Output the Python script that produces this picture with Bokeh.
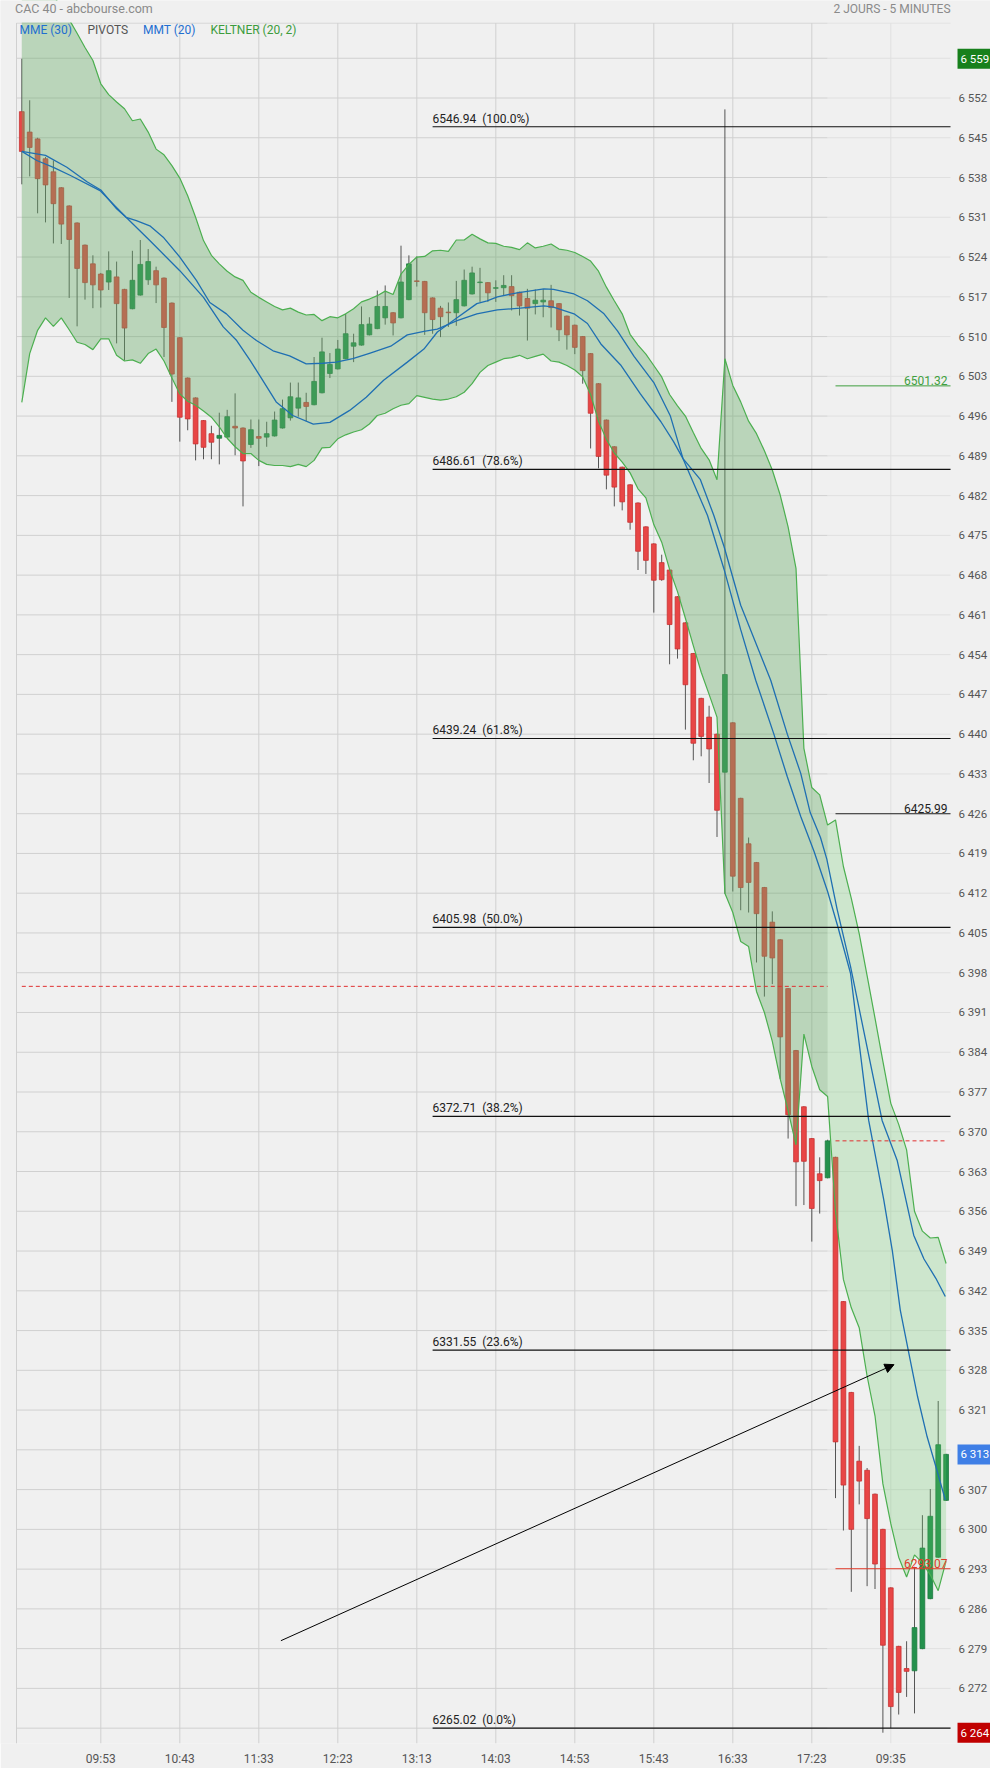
from bokeh.plotting import figure
from bokeh.models import Range1d, FixedTicker, Label, Arrow, NormalHead, ColumnDataSource
from bokeh.core.properties import value
from bokeh.embed import file_html
from bokeh.resources import INLINE

# ---------------- data ----------------
opens = [6549.6, 6546.0, 6544.8, 6541.3, 6539.0, 6536.2, 6533.0, 6530.0, 6526.1, 6522.8,
         6521.0, 6519.6, 6520.5, 6518.3, 6514.9, 6517.3, 6520.0, 6521.6, 6520.3, 6515.9,
         6509.8, 6502.7, 6499.2, 6495.2, 6492.9, 6492.1, 6492.3, 6494.2, 6493.9, 6491.0,
         6492.4, 6492.3, 6492.5, 6493.9, 6495.7, 6497.4, 6498.4, 6498.0, 6500.1, 6503.5,
         6504.3, 6506.1, 6508.3, 6508.5, 6510.3, 6511.4, 6513.3, 6514.2, 6513.3, 6516.5,
         6519.8, 6519.7, 6516.8, 6515.0, 6514.3, 6514.2, 6515.4, 6517.5, 6519.5, 6519.5,
         6518.5, 6518.6, 6518.8, 6517.8, 6516.7, 6515.8, 6516.1, 6516.3, 6515.8, 6513.6,
         6512.0, 6510.0, 6507.0, 6501.7, 6495.3, 6490.6, 6487.0, 6483.9, 6480.7, 6476.5,
         6473.5, 6470.2, 6468.9, 6464.2, 6459.6, 6454.2, 6446.3, 6443.0, 6440.0, 6433.3,
         6442.0, 6428.7, 6420.7, 6417.4, 6413.0, 6406.9, 6403.8, 6395.2, 6384.3, 6374.4,
         6368.8, 6362.6, 6361.9, 6365.5, 6340.1, 6324.1, 6312.0, 6310.4, 6306.2, 6300.0,
         6289.7, 6279.4, 6275.5, 6275.1, 6279.0, 6287.8, 6295.1, 6305.1]
highs = [6558.91, 6551.6, 6545.0, 6541.6, 6541.0, 6536.3, 6533.1, 6530.1, 6526.2, 6524.3,
         6521.2, 6525.0, 6523.2, 6518.4, 6525.1, 6527.0, 6525.4, 6522.3, 6520.4, 6516.0,
         6509.9, 6502.8, 6499.3, 6495.3, 6494.3, 6496.6, 6497.1, 6500.0, 6494.0, 6495.4,
         6495.4, 6495.0, 6496.8, 6498.9, 6501.9, 6501.9, 6500.1, 6506.4, 6509.8, 6507.1,
         6509.4, 6514.0, 6510.5, 6515.3, 6513.4, 6518.1, 6519.0, 6514.3, 6526.0, 6524.3,
         6524.1, 6519.8, 6516.9, 6515.4, 6516.0, 6519.8, 6521.8, 6522.3, 6522.1, 6519.6,
         6519.9, 6520.8, 6520.8, 6517.9, 6518.4, 6518.3, 6518.4, 6519.1, 6515.9, 6513.7,
         6512.1, 6510.1, 6507.1, 6501.8, 6495.4, 6490.7, 6487.1, 6484.0, 6480.8, 6476.6,
         6473.6, 6471.6, 6469.0, 6464.3, 6459.7, 6454.3, 6446.4, 6445.0, 6440.1, 6550.0,
         6442.1, 6428.8, 6421.8, 6417.5, 6413.1, 6408.8, 6403.9, 6395.3, 6384.4, 6374.5,
         6368.9, 6365.5, 6368.6, 6365.6, 6340.2, 6324.2, 6314.7, 6310.8, 6306.3, 6300.1,
         6289.8, 6279.5, 6280.3, 6293.4, 6302.5, 6307.1, 6322.6, 6313.3]
lows = [6536.8, 6538.2, 6531.7, 6530.1, 6526.4, 6526.3, 6516.8, 6511.8, 6516.5, 6515.0,
        6515.1, 6518.2, 6508.8, 6505.8, 6514.8, 6517.2, 6519.1, 6515.9, 6506.4, 6498.5,
        6491.5, 6493.5, 6488.2, 6488.4, 6488.4, 6487.5, 6492.2, 6489.1, 6480.1, 6490.4,
        6487.2, 6490.6, 6492.4, 6493.8, 6495.2, 6495.9, 6495.1, 6497.9, 6500.0, 6502.7,
        6504.2, 6506.0, 6505.5, 6508.4, 6510.2, 6511.3, 6512.1, 6510.2, 6513.2, 6516.4,
        6518.8, 6510.3, 6510.5, 6509.9, 6511.7, 6511.9, 6515.3, 6517.4, 6516.1, 6516.1,
        6516.1, 6517.2, 6514.6, 6513.7, 6509.3, 6513.9, 6513.4, 6511.6, 6509.2, 6507.7,
        6506.9, 6501.7, 6490.3, 6486.8, 6483.1, 6480.1, 6479.4, 6476.0, 6468.9, 6468.2,
        6461.4, 6467.0, 6452.3, 6453.3, 6440.8, 6435.4, 6436.1, 6431.4, 6421.9, 6411.9,
        6412.3, 6409.0, 6408.6, 6399.8, 6393.8, 6396.0, 6379.3, 6368.8, 6356.9, 6357.1,
        6350.66, 6355.6, 6361.8, 6305.5, 6299.8, 6289.0, 6304.4, 6290.0, 6289.5, 6264.2,
        6265.0, 6267.4, 6270.5, 6267.6, 6278.9, 6287.7, 6295.0, 6305.0]
closes = [6542.6, 6543.3, 6537.8, 6536.7, 6533.4, 6529.8, 6527.1, 6522.0, 6519.5, 6519.1,
          6518.2, 6521.6, 6515.8, 6511.5, 6519.9, 6522.7, 6523.2, 6519.1, 6511.6, 6503.4,
          6495.8, 6495.5, 6491.1, 6490.5, 6491.4, 6492.6, 6495.9, 6493.9, 6488.1, 6493.6,
          6492.1, 6492.9, 6495.3, 6497.3, 6499.4, 6499.2, 6497.7, 6502.1, 6507.3, 6505.1,
          6507.8, 6510.5, 6508.9, 6512.1, 6512.2, 6515.3, 6515.3, 6512.4, 6519.6, 6522.8,
          6519.7, 6514.2, 6513.0, 6513.5, 6514.2, 6516.5, 6519.9, 6521.2, 6519.6, 6517.7,
          6518.6, 6519.0, 6517.2, 6515.4, 6515.0, 6516.4, 6516.4, 6515.1, 6511.2, 6510.3,
          6508.1, 6504.0, 6496.5, 6488.9, 6485.6, 6483.5, 6480.9, 6477.3, 6472.2, 6470.6,
          6467.1, 6467.2, 6459.3, 6455.0, 6448.7, 6438.4, 6439.6, 6437.4, 6426.6, 6450.5,
          6415.0, 6413.0, 6413.9, 6408.4, 6400.9, 6400.6, 6386.7, 6373.0, 6364.7, 6364.8,
          6356.5, 6361.4, 6368.4, 6315.4, 6307.8, 6300.0, 6308.5, 6301.9, 6293.9, 6279.6,
          6268.8, 6271.3, 6275.0, 6282.7, 6296.7, 6302.3, 6314.9, 6313.2]

keltner_upper = [6580.0, 6578.0, 6575.0, 6572.0, 6570.0, 6568.0, 6565.8, 6563.4, 6560.9, 6558.6,
                 6554.5, 6552.6, 6551.3, 6550.1, 6548.0, 6548.3, 6546.0, 6543.0, 6542.0, 6540.1,
                 6537.9, 6534.8, 6531.0, 6526.9, 6524.3, 6522.8, 6521.5, 6520.5, 6519.9, 6517.8,
                 6516.9, 6516.1, 6515.3, 6514.7, 6515.0, 6514.3, 6513.8, 6513.9, 6512.8, 6513.5,
                 6513.3, 6514.0, 6514.9, 6516.1, 6516.6, 6517.2, 6518.0, 6517.4, 6521.0, 6522.7,
                 6524.0, 6524.1, 6525.1, 6525.2, 6525.0, 6527.0, 6527.0, 6528.0, 6527.2, 6526.5,
                 6526.4, 6525.9, 6525.7, 6525.3, 6526.5, 6525.6, 6525.9, 6526.3, 6525.4, 6525.2,
                 6524.8, 6524.1, 6523.3, 6521.5, 6518.7, 6516.3, 6514.0, 6510.4, 6508.5, 6506.9,
                 6504.9, 6502.9, 6499.8, 6497.8, 6496.0, 6493.1, 6490.3, 6488.3, 6484.8, 6506.1,
                 6501.4, 6498.5, 6495.1, 6492.9, 6489.9, 6486.5, 6482.1, 6476.5, 6469.2, 6437.5,
                 6430.6, 6429.3, 6424.0, 6424.9, 6416.7, 6411.1, 6404.9, 6397.5, 6390.0, 6382.4,
                 6375.0, 6371.3, 6366.8, 6356.0, 6352.5, 6351.3, 6351.4, 6346.8]
keltner_lower = [6498.4, 6507.0, 6511.1, 6513.3, 6511.8, 6513.3, 6511.2, 6509.0, 6508.6, 6507.7,
                 6509.6, 6509.6, 6506.7, 6505.7, 6505.9, 6505.3, 6507.0, 6507.8, 6505.7, 6502.7,
                 6499.9, 6498.6, 6497.9, 6496.9, 6495.8, 6494.1, 6492.1, 6490.6, 6489.4, 6489.4,
                 6488.2, 6487.5, 6487.3, 6487.3, 6487.1, 6487.5, 6487.1, 6488.2, 6490.4, 6490.5,
                 6492.0, 6492.7, 6493.2, 6493.6, 6494.6, 6496.1, 6496.5, 6497.3, 6497.9, 6498.2,
                 6499.6, 6499.3, 6499.0, 6498.8, 6499.0, 6499.4, 6500.2, 6501.7, 6503.7, 6504.9,
                 6505.5, 6506.1, 6506.3, 6506.7, 6506.1, 6506.5, 6506.9, 6505.7, 6505.5, 6504.9,
                 6504.1, 6502.9, 6499.8, 6495.1, 6491.9, 6489.5, 6487.9, 6486.0, 6483.2, 6481.6,
                 6476.9, 6473.8, 6469.0, 6465.1, 6460.4, 6455.6, 6450.9, 6447.0, 6443.0, 6412.0,
                 6408.6, 6403.5, 6402.6, 6394.7, 6391.0, 6385.9, 6379.3, 6373.7, 6367.7, 6387.2,
                 6381.5, 6377.4, 6376.2, 6356.0, 6344.0, 6339.0, 6335.5, 6327.0, 6320.0, 6308.0,
                 6301.0, 6295.1, 6291.6, 6295.5, 6294.1, 6292.0, 6289.2, 6294.4]

mme_x = [0, 3.0, 5.7, 8.3, 10, 12, 13.2, 14.5, 16.2, 17.9, 20, 22.1, 23.8, 25.9, 28, 29.7,
         31.8, 33.9, 36, 38.1, 39.8, 41.9, 44.1, 46.7, 48.8, 50.9, 52.6, 55.1, 57.6, 60.2,
         63.1, 66.1, 67.3, 69.9, 71.6, 73.3, 75.8, 78.3, 80.9, 82.5, 83.7, 85.9, 87.6, 88.9,
         91.0, 94.8, 96.9, 98.6, 99.8, 101.1, 101.9, 103.2, 104.9, 108.9, 110.8, 111.9, 112.9,
         114.2, 115.7, 116.9]
mme_y = [6542.6, 6541.9, 6539.8, 6537.2, 6535.8, 6532.5, 6531.0, 6530.4, 6529.5, 6527.5,
         6524.0, 6519.9, 6516.0, 6514.0, 6511.1, 6509.3, 6507.5, 6506.6, 6505.2, 6505.3,
         6505.5, 6506.1, 6507.1, 6508.3, 6510.3, 6510.9, 6511.3, 6512.8, 6514.0, 6514.7,
         6515.0, 6515.4, 6515.2, 6514.0, 6512.3, 6508.7, 6505.0, 6499.9, 6495.0, 6491.5,
         6488.5, 6484.8, 6478.5, 6473.0, 6462.7, 6449.5, 6440.0, 6433.1, 6426.2, 6421.8,
         6418.0, 6409.2, 6399.1, 6372.0, 6365.0, 6358.1, 6351.8, 6347.6, 6344.2, 6341.0]
mmt_x = [0, 1.9, 4.0, 6.1, 9.9, 13.2, 16.2, 20, 23, 25.5, 27.2, 28.9, 30.5, 32.2, 34.3, 36.9,
         39, 41.5, 43.6, 45.8, 48.8, 50.9, 52.6, 55.1, 57.6, 58.9, 60.2, 62.7, 66.1, 67.3, 69.9,
         71.6, 73.7, 75.4, 77.5, 80.0, 82.1, 83.7, 84.6, 86.8, 88.9, 91.0, 92.9, 95.2, 96.9,
         98.6, 100.3, 102.0, 103.3, 104.9, 107.2, 109.1, 110.2, 111.2, 112.3, 113.4, 114.6,
         115.9, 116.9]
mmt_y = [6542.6, 6541.0, 6539.8, 6538.4, 6535.7, 6531.0, 6526.9, 6521.6, 6516.9, 6511.7,
         6509.3, 6505.8, 6502.3, 6498.5, 6496.1, 6494.6, 6494.9, 6497.0, 6499.3, 6502.3,
         6505.5, 6507.8, 6510.8, 6513.3, 6515.8, 6516.3, 6517.0, 6517.7, 6518.4, 6518.3,
         6517.5, 6516.3, 6514.0, 6511.0, 6506.5, 6501.9, 6496.0, 6488.5, 6485.6, 6478.5,
         6469.0, 6458.4, 6449.5, 6440.0, 6432.5, 6425.5, 6419.3, 6412.3, 6406.1, 6397.9,
         6372.0, 6358.1, 6349.0, 6338.6, 6330.9, 6323.3, 6316.3, 6310.1, 6305.2]

x_tick_pos = [10, 20, 30, 40, 50, 60, 70, 80, 90, 100, 110]
x_tick_labels = ["09:53", "10:43", "11:33", "12:23", "13:13", "14:03", "14:53",
                 "15:43", "16:33", "17:23", "09:35"]
y_ticks = list(range(6265, 6560, 7))
y_tick_labels = [f"{t // 1000} {t % 1000:03d}" for t in y_ticks]

fib_levels = [6546.94, 6486.61, 6439.24, 6405.98, 6372.71, 6331.55, 6265.02]
fib_pcts = ["100.0%", "78.6%", "61.8%", "50.0%", "38.2%", "23.6%", "0.0%"]
fib_start = 52

day1_last = 102
prev_close_levels = [6395.6, 6368.4]
day2_levels = [6501.32, 6425.99, 6293.07]
day2_colors = ["#3f9f3f", "#222222", "#e03a2a"]
trend_start = (32.8, 6280.4)
trend_end = (110.4, 6329.0)

# ---------------- geometry (pixel layout of the picture) ----------------
PX_PER_BAR, PX_PER_PT = 7.9, 5.68
FW, FH = 990, 1743                      # frame covers header + price-axis area
X0 = -21.3 / PX_PER_BAR
X1 = X0 + FW / PX_PER_BAR
Y1 = 6552 + 97.5 / PX_PER_PT
Y0 = Y1 - FH / PX_PER_PT
IX0, IX1 = -0.67, 117.56                # inner chart area
IY1 = 6565.19
BG = "#f0f0f0"
FONT = "Roboto"

n = len(closes)
xs = list(range(n))

p = figure(frame_width=FW, frame_height=FH, output_backend="svg", toolbar_location=None,
           x_range=Range1d(X0, X1), y_range=Range1d(Y0, Y1), y_axis_location=None,
           min_border_left=0, min_border_right=0, min_border_top=0, min_border_bottom=0)
p.background_fill_color = BG
p.border_fill_color = BG
p.outline_line_color = None
p.grid.visible = False

ax = p.xaxis[0]
ax.ticker = FixedTicker(ticks=x_tick_pos)
ax.major_label_overrides = {t: l for t, l in zip(x_tick_pos, x_tick_labels)}
ax.axis_line_color = None
ax.major_tick_line_color = None
ax.minor_tick_line_color = None
ax.major_tick_out = 0
ax.major_tick_in = 0
ax.major_label_standoff = 8
ax.major_label_text_font = FONT
ax.major_label_text_font_size = "12px"
ax.major_label_text_color = "#555555"

# grid lines and frame borders (darker over day 1, lighter over day 2)
GRID1, GRID2 = "#d0d0d0", "#e0e0e0"
p.segment(x0=[IX0] * len(y_ticks), x1=[day1_last] * len(y_ticks), y0=y_ticks, y1=y_ticks,
          line_color=GRID1, line_width=1)
p.segment(x0=[day1_last] * len(y_ticks), x1=[IX1] * len(y_ticks), y0=y_ticks, y1=y_ticks,
          line_color=GRID2, line_width=1)
p.segment(x0=x_tick_pos, x1=x_tick_pos, y0=[Y0] * len(x_tick_pos), y1=[IY1] * len(x_tick_pos),
          line_color=[GRID1 if t <= day1_last else GRID2 for t in x_tick_pos], line_width=1)
p.segment(x0=[IX0, day1_last, IX0], x1=[day1_last, IX1, IX0], y0=[IY1, IY1, Y0],
          y1=[IY1, IY1, IY1], line_color=[GRID1, GRID2, GRID1], line_width=1)

# candles
RED, GREEN = "#e84646", "#23914c"
up = [c >= o for o, c in zip(opens, closes)]
src = ColumnDataSource(dict(
    x=xs, high=highs, low=lows,
    top=[max(o, c) for o, c in zip(opens, closes)],
    bottom=[min(o, c) for o, c in zip(opens, closes)],
    fill=[GREEN if u else RED for u in up],
    edge=["#1d7a40" if u else "#c83232" for u in up]))
p.segment(x0="x", y0="low", x1="x", y1="high", source=src, line_color="#555555", line_width=1)
p.vbar(x="x", width=0.6, top="top", bottom="bottom", source=src,
       fill_color="fill", line_color="edge", line_width=0.8)

# Keltner band over the candles
p.varea(x=xs, y1=keltner_lower, y2=keltner_upper, fill_color="#64c864", fill_alpha=0.25)
d1 = day1_last + 1
p.varea(x=xs[:d1], y1=keltner_lower[:d1], y2=keltner_upper[:d1],
        fill_color="#6e8f6e", fill_alpha=0.2)
p.line(xs, keltner_upper, line_color="#4caf50", line_width=1.2)
p.line(xs, keltner_lower, line_color="#4caf50", line_width=1.2)

# moving averages
p.line(mme_x, mme_y, line_color="#1f6fb2", line_width=1.3)
p.line(mmt_x, mmt_y, line_color="#1f6fb2", line_width=1.3)

# mask everything that rises above the chart area (header strip)
p.quad(left=[X0], right=[X1], bottom=[IY1 + 0.1], top=[Y1], fill_color=BG, line_color=None)

# previous closes (pivots), dashed
p.segment(x0=[0, day1_last + 1], x1=[day1_last, n - 1], y0=prev_close_levels,
          y1=prev_close_levels, line_color="#e03030", line_width=1, line_dash="4 3")

# day 2 pivot levels
p.segment(x0=[day1_last + 1] * 3, x1=[IX1] * 3, y0=day2_levels, y1=day2_levels,
          line_color=day2_colors, line_width=1)
for lv, col in zip(day2_levels, day2_colors):
    p.add_layout(Label(x=IX1, y=lv, x_offset=-3, y_offset=1, text=f"{lv:.2f}",
                       text_align="right", text_baseline="bottom", text_font=FONT,
                       text_font_size="12px", text_color=col))

# fibonacci retracement
p.segment(x0=[fib_start] * len(fib_levels), x1=[IX1] * len(fib_levels), y0=fib_levels,
          y1=fib_levels, line_color="#111111", line_width=1.2)
for lv, pc in zip(fib_levels, fib_pcts):
    p.add_layout(Label(x=fib_start, y=lv, y_offset=1, text=f"{lv:.2f} \u00a0({pc})",
                       text_align="left", text_baseline="bottom", text_font=FONT,
                       text_font_size="12px", text_color="#222222"))

# trend arrow
p.add_layout(Arrow(end=NormalHead(size=9, fill_color="black", line_color="black"),
                   x_start=trend_start[0], y_start=trend_start[1],
                   x_end=trend_end[0], y_end=trend_end[1],
                   line_color="black", line_width=1))

# price scale labels on the right
p.text(x=[IX1] * len(y_ticks), y=y_ticks, text=y_tick_labels, x_offset=8,
       text_align="left", text_baseline="middle", text_font=value(FONT),
       text_font_size=value("11.5px"), text_color="#555555")

# highlighted prices
boxes = [(max(highs), "#17801c"), (closes[-1], "#3f7fe6"), (min(lows), "#c00000")]
for v, col in boxes:
    t = int(round(v))
    p.add_layout(Label(x=IX1, y=v, x_offset=7, text=f"{t // 1000} {t % 1000:03d}",
                       text_align="left", text_baseline="middle", text_font=FONT,
                       text_font_size="11.5px", text_color="white",
                       background_fill_color=col, padding=3))

# header and legend
p.add_layout(Label(x=14.5, y=FH - 8, x_units="screen", y_units="screen",
                   text="CAC 40 - abcbourse.com", text_baseline="middle", text_font=FONT,
                   text_font_size="12.5px", text_color="#8a8a8a"))
p.add_layout(Label(x=950, y=FH - 8, x_units="screen", y_units="screen",
                   text="2 JOURS - 5 MINUTES", text_align="right", text_baseline="middle",
                   text_font=FONT, text_font_size="12px", text_color="#8a8a8a"))
legend = [("MME (30)", "#1f6fd0", 19), ("PIVOTS", "#555555", 87),
          ("MMT (20)", "#1f6fd0", 142.5), ("KELTNER (20, 2)", "#3c9c3c", 210)]
for txt, col, xo in legend:
    p.add_layout(Label(x=xo, y=FH - 22, x_units="screen", y_units="screen", text=txt,
                       text_baseline="top", text_font=FONT, text_font_size="12px",
                       text_color=col))

open("out.html", "w").write(file_html(p, INLINE))
